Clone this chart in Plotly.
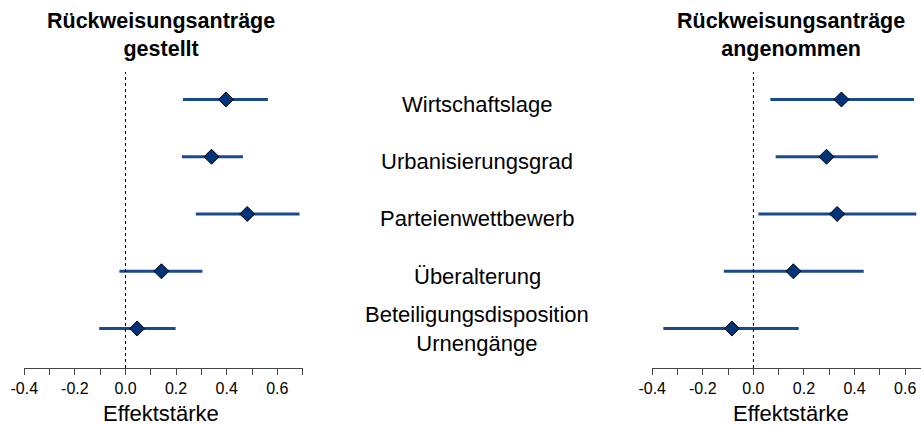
import plotly.graph_objects as go

# ---- data ----
predictors = ["Wirtschaftslage", "Urbanisierungsgrad", "Parteienwettbewerb",
              "Überalterung", "Beteiligungsdisposition<br>Urnengänge"]

# Panel 1: Rückweisungsanträge gestellt
est_gestellt = [0.397, 0.340, 0.481, 0.142, 0.046]
lo_gestellt = [0.227, 0.223, 0.278, -0.024, -0.104]
hi_gestellt = [0.563, 0.464, 0.688, 0.304, 0.198]

# Panel 2: Rückweisungsanträge angenommen
est_angenommen = [0.348, 0.289, 0.331, 0.158, -0.085]
lo_angenommen = [0.067, 0.088, 0.020, -0.117, -0.356]
hi_angenommen = [0.635, 0.492, 0.644, 0.436, 0.179]

panel_titles = ["Rückweisungsanträge<br>gestellt", "Rückweisungsanträge<br>angenommen"]
axis_title = "Effektstärke"
tick_vals = [-0.4, -0.2, 0.0, 0.2, 0.4, 0.6]
tick_text = ["-0.4", "-0.2", "0.0", "0.2", "0.4", "0.6"]

FONT = "Arial, Liberation Sans, sans-serif"
LINE_COL = "#1a4a8c"
FILL_COL = "#003378"

rows = list(range(len(predictors)))

fig = go.Figure()

def add_panel(est, lo, hi, xa, ya):
    fig.add_trace(go.Scatter(
        x=est, y=rows, mode="markers",
        xaxis=xa, yaxis=ya,
        marker=dict(symbol="diamond", size=11.5, color=FILL_COL,
                    line=dict(color="black", width=1)),
        error_x=dict(type="data", symmetric=False,
                     array=[h - e for h, e in zip(hi, est)],
                     arrayminus=[e - l for e, l in zip(est, lo)],
                     color=LINE_COL, thickness=3, width=0),
        showlegend=False, hoverinfo="skip",
    ))

add_panel(est_gestellt, lo_gestellt, hi_gestellt, "x", "y")
add_panel(est_angenommen, lo_angenommen, hi_angenommen, "x2", "y2")

W, H = 921, 426
top, bottom = 72, 58
plot_h = H - top - bottom

xcommon = dict(
    showgrid=False, zeroline=False, showline=True, linecolor="#444444", linewidth=1,
    ticks="outside", ticklen=6, tickcolor="#444444", tickwidth=1,
    tickvals=tick_vals, ticktext=tick_text,
    tickfont=dict(family=FONT, size=16, color="black"),
    minor=dict(ticks="outside", dtick=0.1, tick0=0, ticklen=6, tickcolor="#444444", tickwidth=1),
    fixedrange=True, automargin=False,
)
ycommon = dict(visible=False, range=[4.69, -0.48], showgrid=False, zeroline=False,
               fixedrange=True, automargin=False)

fig.update_layout(
    template="none",
    width=W, height=H,
    margin=dict(l=0, r=0, t=top, b=bottom, pad=0),
    plot_bgcolor="white", paper_bgcolor="white",
    xaxis=dict(domain=[24.3 / W, 302.6 / W], range=[-0.4, 0.7], anchor="y", **xcommon),
    xaxis2=dict(domain=[652.2 / W, 1.0], range=[-0.4, 0.6625], anchor="y2", **xcommon),
    yaxis=dict(domain=[0, 1], anchor="x", **ycommon),
    yaxis2=dict(domain=[0, 1], anchor="x2", **ycommon),
)

# dotted zero lines
for xr in ["x", "x2"]:
    fig.add_shape(type="line", xref=xr, yref="paper", x0=0, x1=0, y0=0, y1=1,
                  line=dict(color="black", width=1, dash="dot"))

# centre labels
for i, lab in enumerate(predictors):
    shift = 0 if "<br>" in lab else -5
    fig.add_annotation(x=477 / W, xref="paper", y=i, yref="y", text=lab,
                       showarrow=False, xanchor="center", yanchor="middle", yshift=shift,
                       font=dict(family=FONT, size=22, color="black"), align="center")

# panel titles
def py(pix):
    return 1 + (top - pix) / plot_h

for cx, t in zip([161, 791], panel_titles):
    fig.add_annotation(x=cx / W, xref="paper", y=py(35), yref="paper", text="<b>" + t + "</b>",
                       showarrow=False, xanchor="center", yanchor="middle",
                       font=dict(family=FONT, size=21.5, color="black"), align="center")
    fig.add_annotation(x=cx / W, xref="paper", y=py(413), yref="paper", text=axis_title,
                       showarrow=False, xanchor="center", yanchor="middle",
                       font=dict(family=FONT, size=22, color="black"))

fig.write_html("out.html", config={"displayModeBar": False, "staticPlot": True},
               post_script="document.body.style.margin='0';document.body.style.overflow='hidden';")
